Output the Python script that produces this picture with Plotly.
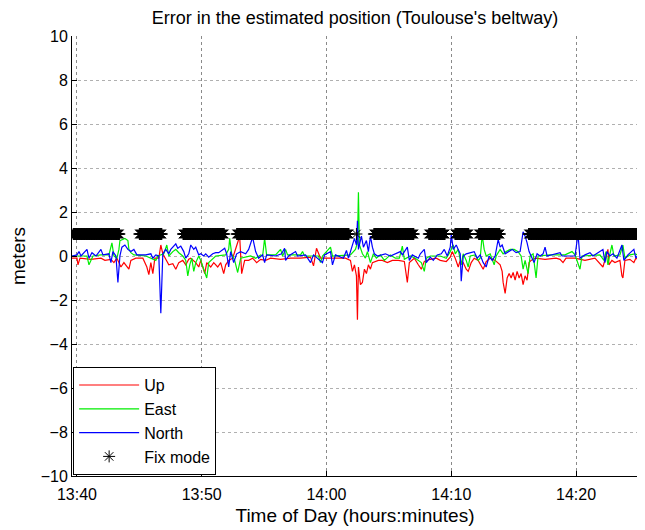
import numpy as np
import pandas as pd
import plotly.graph_objects as go

# minutes after 13:40 and error values (m)
up_t = [-0.4, 0, 0.08, 0.24, 1.12, 1.92, 2.24, 2.72, 2.96, 3.2, 3.36, 3.52, 3.76, 4.0, 4.16, 4.32, 4.72,
        5.28, 5.6, 5.76, 5.92, 6.08, 6.24, 6.56, 6.72, 6.88, 7.12, 7.36, 7.68, 7.92, 8.16, 8.48, 8.72,
        8.96, 9.12, 9.52, 9.76, 9.92, 10.24, 10.4, 10.72, 10.96, 11.28, 11.52, 11.76, 11.92, 12.16,
        12.48, 13.04, 13.2, 13.44, 13.76, 14.08, 14.4, 14.72, 15.12, 15.52, 16.32, 17.12, 17.92, 18.72,
        18.96, 19.2, 19.52, 20.32, 21.52, 21.92, 22.08, 22.24, 22.4, 22.48, 22.56, 22.72, 22.88, 23.04,
        23.2, 23.36, 23.52, 23.68, 24.16, 24.48, 24.88, 25.28, 25.76, 26.24, 26.48, 26.64, 27.04, 27.36,
        27.6, 27.84, 28.32, 28.8, 29.12, 29.6, 29.92, 30.08, 30.32, 30.56, 30.72, 30.96, 31.2, 31.36,
        31.6, 31.84, 32.16, 32.56, 32.8, 33.12, 33.52, 33.92, 34.08, 34.16, 34.32, 34.48, 34.64, 34.8,
        34.96, 35.12, 35.28, 35.44, 35.6, 35.76, 35.92, 36.08, 36.24, 36.4, 36.72, 37.52, 38.4, 38.72,
        38.96, 39.2, 39.92, 40.72, 41.52, 42.16, 42.32, 42.56, 42.64, 42.88, 43.12, 43.52, 43.68, 43.76,
        43.92, 44.32, 44.64, 44.8, 44.96]
up_v = [-0.1, -0.1, -0.4, -0.1, -0.15, -0.1, -0.2, -0.15, -0.3, -0.1, -0.3, -0.5, -0.3, -0.5, -0.6, -0.2, -0.1,
        -0.1, -0.5, -0.85, -0.3, -0.8, -0.1, -0.1, 0.5, 0.1, -0.15, -0.4, -0.35, -0.6, -0.3, -0.2, -0.4,
        -0.15, -0.1, -0.3, -0.5, -0.2, -0.8, -0.3, -0.5, -0.3, -0.5, -0.3, -0.8, -0.4, -0.2,
        -0.1, 0.9, -0.8, -0.2, -0.2, -0.1, -0.3, -0.15, -0.2, -0.1, -0.15, -0.1, -0.1, -0.05,
        -0.45, 0.35, -0.1, -0.1, -0.1, -0.2, -0.7, -0.4, -0.9, -2.9, -0.5, -1.3, -1.2, -0.6,
        -0.8, -0.4, -0.6, -0.3, -0.2, -0.2, -0.3, -0.2, -0.2, -0.25, -1.2, -0.3, -0.1, -0.4,
        -0.6, -0.25, -0.15, -0.1, -0.2, -0.25, -0.05, 0.2, -0.1, -0.5, -0.2, -0.3, -0.6, -0.7,
        -0.3, -0.1, -0.2, -0.6, -0.25, -0.1, -0.2, -0.4, -0.7, -1.2, -1.7, -1.0, -0.8, -1.0,
        -0.75, -1.1, -0.7, -1.0, -0.8, -1.3, -0.9, -1.1, -0.3, -0.2, -0.1, -0.15, -0.1, -0.15,
        -0.3, -0.1, -0.1, -0.2, -0.1, -0.5, -0.2, 0.3, -0.4, -0.2, -0.3, -0.2, -0.9, -1.0,
        -0.2, -0.15, -0.3, -0.1, -0.15]

east_t = [-0.4, 0.8, 0.96, 1.12, 1.28, 1.92, 2.56, 2.8, 2.96, 3.2, 3.36, 3.44, 3.84, 4.08, 4.16, 4.32, 4.56,
          5.52, 6.32, 6.48, 6.96, 7.2, 7.36, 7.68, 7.92, 8.16, 8.48, 8.72, 8.88, 9.04, 9.2, 9.36, 9.52,
          9.76, 9.92, 10.16, 10.4, 10.56, 10.88, 11.12, 11.92, 12.16, 12.24, 12.4, 12.64, 12.88, 13.12,
          13.92, 14.32, 14.72, 14.88, 15.04, 15.2, 15.92, 16.32, 16.48, 16.72, 16.88, 17.92, 18.08, 18.24,
          19.36, 19.52, 19.68, 20.32, 20.48, 21.92, 22.32, 22.48, 22.56, 22.64, 22.88, 23.12, 23.28, 23.52,
          23.76, 24.0, 24.32, 24.64, 25.12, 25.52, 25.84, 26.08, 26.24, 26.72, 27.12, 27.6, 27.84, 28.0,
          28.32, 29.12, 29.6, 29.92, 30.16, 30.32, 30.56, 30.8, 30.96, 31.2, 31.36, 31.52, 31.92, 32.16,
          32.32, 32.48, 32.64, 32.8, 33.12, 33.44, 33.6, 33.92, 34.16, 34.4, 34.72, 35.04, 35.36, 35.6,
          35.76, 35.92, 36.16, 36.32, 36.56, 36.8, 36.96, 37.92, 39.12, 39.68, 39.92, 40.32, 40.48, 41.92,
          42.24, 42.4, 42.56, 42.72, 42.88, 43.04, 43.52, 43.76, 43.92, 44.32, 44.72, 44.96]
east_v = [0.0, 0.0, -0.4, -0.2, 0.0, 0.05, 0.05, 0.6, 0.0, -0.1, 0.3, 0.7, 0.8, 0.7, 0.3, 0.15, 0.05,
          0.0, -0.2, 0.0, 0.1, 0.5, 0.0, 0.2, 0.3, 0.15, 0.0, -0.2, -0.9, -0.4, -0.1, -0.7, -0.3,
          0.0, -0.2, -0.6, -1.0, -0.3, -0.1, 0.0, 0.05, 0.3, 0.8, 0.1, -0.2, -0.75, -0.1,
          0.0, -0.1, 0.05, 0.0, 0.8, 0.05, 0.05, 0.3, 0.0, 0.3, 0.05, 0.05, 0.2, 0.0,
          0.0, -0.3, 0.0, 0.4, 0.0, 0.05, 0.3, 0.6, 2.9, 0.5, 0.1, -0.1, 0.2, -0.3,
          0.1, -0.1, 0.05, -0.2, 0.05, -0.1, -0.1, 0.45, -0.15, 0.0, -0.1, -0.3, -0.7, -0.1,
          0.0, 0.0, -0.1, 0.2, 0.5, 0.1, 0.3, -0.4, 0.1, -0.2, -0.5, 0.0, 0.05, -0.2,
          -0.1, 0.95, 0.3, 0.0, 0.1, -0.4, 0.0, 0.3, 0.1, 0.2, 0.3, 0.3, 0.2, 0.0,
          -0.6, -0.2, -0.8, 0.0, 0.1, -1.0, 0.0, 0.05, 0.05, 0.2, 0.05, -0.6, 0.0, 0.05,
          -0.2, 0.2, -0.4, 0.1, 0.5, 0.0, 0.05, 0.5, -0.1, 0.05, 0.1, 0.05]

north_t = [-0.4, 0, 0.16, 0.32, 0.8, 0.96, 1.2, 1.52, 1.92, 2.08, 2.56, 2.72, 2.88, 3.12, 3.28, 3.44, 3.6,
           3.84, 4.08, 4.32, 4.56, 4.8, 5.52, 5.92, 6.08, 6.32, 6.56, 6.72, 6.88, 7.12, 7.36, 7.52, 7.92,
           8.08, 8.32, 8.56, 8.72, 8.96, 9.12, 9.36, 9.52, 9.76, 9.92, 10.16, 10.32, 10.56, 10.88, 11.12,
           11.36, 11.6, 11.84, 12.0, 12.16, 12.32, 12.56, 12.8, 13.12, 13.52, 13.76, 14.08, 14.32, 14.56,
           14.88, 15.04, 15.2, 15.92, 16.4, 16.64, 16.72, 16.96, 17.52, 17.68, 18.32, 18.72, 18.96, 19.68,
           19.84, 20.32, 20.48, 20.72, 21.36, 21.6, 21.76, 21.92, 22.08, 22.24, 22.4, 22.48, 22.56, 22.72,
           22.8, 22.96, 23.2, 23.36, 23.52, 23.68, 23.84, 24.08, 24.72, 25.12, 25.92, 26.08, 26.48, 26.64,
           26.88, 27.36, 27.52, 27.84, 28.0, 28.32, 28.56, 28.88, 29.2, 29.44, 29.68, 29.92, 30.0, 30.16,
           30.4, 30.56, 30.72, 30.8, 30.96, 31.2, 31.84, 32.08, 32.32, 32.56, 32.8, 33.04, 33.28, 33.52,
           33.76, 33.92, 34.08, 34.32, 34.56, 34.88, 35.2, 35.52, 35.76, 35.92, 36.08, 36.24, 36.4, 36.64,
           36.88, 37.12, 37.36, 37.52, 37.68, 38.4, 38.72, 38.88, 39.92, 40.16, 40.32, 40.72, 41.12, 41.36,
           42.16, 42.32, 42.48, 42.72, 42.96, 43.28, 43.68, 43.84, 44.16, 44.64, 44.8, 44.96]
north_v = [0.0, 0.05, 0.2, 0.0, 0.3, -0.1, 0.15, 0.0, 0.3, 0.05, 0.1, -0.3, 0.2, 0.0, -1.2, 0.0, 0.4,
           0.5, 0.3, 0.2, 0.3, 0.05, 0.05, 0.1, -0.1, 0.05, 0.0, -2.6, 0.1, 0.3, 0.1, 0.3, 0.55,
           0.35, 0.45, 0.2, -0.1, 0.1, 0.5, 0.3, 0.4, 0.05, 0.1, 0.0, 0.1, -0.05, 0.1, 0.15,
           0.15, 0.25, 0.35, 0.1, -0.5, 0.2, -0.3, 0.1, 0.2, 0.1, 0.3, 0.85, 0.2, -0.1,
           0.05, -0.3, 0.05, 0.0, 0.1, 0.35, -0.2, 0.0, 0.2, 0.0, 0.05, -0.3, 0.05, -0.3,
           0.05, 0.2, -0.4, 0.05, -0.1, 0.25, -0.1, 0.2, 0.5, 0.8, 0.5, 1.6, 0.3, 0.8,
           0.9, 0.4, 0.7, 0.2, 0.9, 0.4, 0.1, 0.0, 0.1, 0.0, 0.2, 0.05, 0.4, -0.2,
           0.05, -0.1, 0.1, 0.3, -0.3, -0.05, -0.2, 0.05, 0.1, 0.3, 0.0, 0.4, 1.0, 0.3,
           0.5, 0.3, 0.1, -1.15, 0.0, 0.1, 0.2, -0.1, 0.05, -0.3, -0.5, 0.0, -0.2, 0.0,
           0.75, 0.4, 0.5, 0.1, 0.2, 0.3, 0.15, 0.2, 1.1, 0.9, 0.6, 0.2, 0.0, -0.3,
           0.1, 0.0, 0.1, 0.4, 0.0, 0.1, 0.15, 0.0, 0.0, 1.0, -0.1, 0.05, 0.15, 0.0,
           0.3, -0.3, 0.2, 0.0, 0.1, -0.1, 0.5, -0.2, 0.05, 0.3, -0.1, 0.05]

# periods (minutes after 13:40) where the receiver was in fix mode, flagged at 1
fix_start = [-0.3, 5.0, 8.5, 12.8, 22.4, 23.8, 28.2, 30.3, 32.2, 36.2]
fix_end = [3.4, 6.8, 11.8, 21.8, 22.4, 27.0, 29.5, 31.4, 33.9, 44.95]
fix_level = 1
epoch_s = 2  # receiver epoch (s)

base = pd.Timestamp("2011-01-01 13:40:00")


def to_time(minutes):
    return base + pd.to_timedelta(np.asarray(minutes, dtype=float), unit="min")


fix_min = np.concatenate([np.arange(s, e + 1e-9, epoch_s / 60) for s, e in zip(fix_start, fix_end)])

fig = go.Figure()
for name, t, v, col in [("Up", up_t, up_v, "#ff0000"),
                        ("East", east_t, east_v, "#00ee00"),
                        ("North", north_t, north_v, "#0000ff")]:
    fig.add_trace(go.Scatter(x=to_time(t), y=v, mode="lines", name=name,
                             line=dict(color=col, width=1.2)))
fig.add_trace(go.Scatter(x=to_time(fix_min), y=np.full(len(fix_min), fix_level), mode="markers",
                         name="Fix mode",
                         marker=dict(symbol="asterisk-open", size=10, color="black",
                                     line=dict(color="#111111", width=1))))

grid = dict(showgrid=True, griddash="dot", ticks="inside", ticklen=5, tickcolor="black",
            showline=True, linecolor="black", linewidth=1, zeroline=False)
# the page body adds an 8 px offset, so the figure is sized to the remaining window
fig.update_layout(
    width=637, height=522,
    margin=dict(l=63, r=7, t=28, b=52),
    plot_bgcolor="white", paper_bgcolor="white",
    font=dict(family="Liberation Sans, Arial, sans-serif", size=16, color="black"),
    title=dict(text="Error in the estimated position (Toulouse's beltway)", x=0.5, xref="paper",
               xanchor="center", y=1 - 10 / 522, yanchor="middle", font=dict(size=18)),
    legend=dict(x=0.002, y=0.002, xanchor="left", yanchor="bottom", bgcolor="white",
                bordercolor="black", borderwidth=1, font=dict(size=16), itemwidth=60),
    xaxis=dict(type="date", range=[base - pd.Timedelta(seconds=24), base + pd.Timedelta(minutes=44.97)],
               tickformat="%H:%M", tick0=base, dtick=600000, gridcolor="#8a8a8a",
               ticklabelstandoff=4,
               title=dict(text="Time of Day (hours:minutes)", standoff=6), **grid),
    yaxis=dict(range=[-10, 10], dtick=2, gridcolor="#b0b0b0",
               title=dict(text="meters", standoff=12), **grid),
)

fig.write_html("out.html")
